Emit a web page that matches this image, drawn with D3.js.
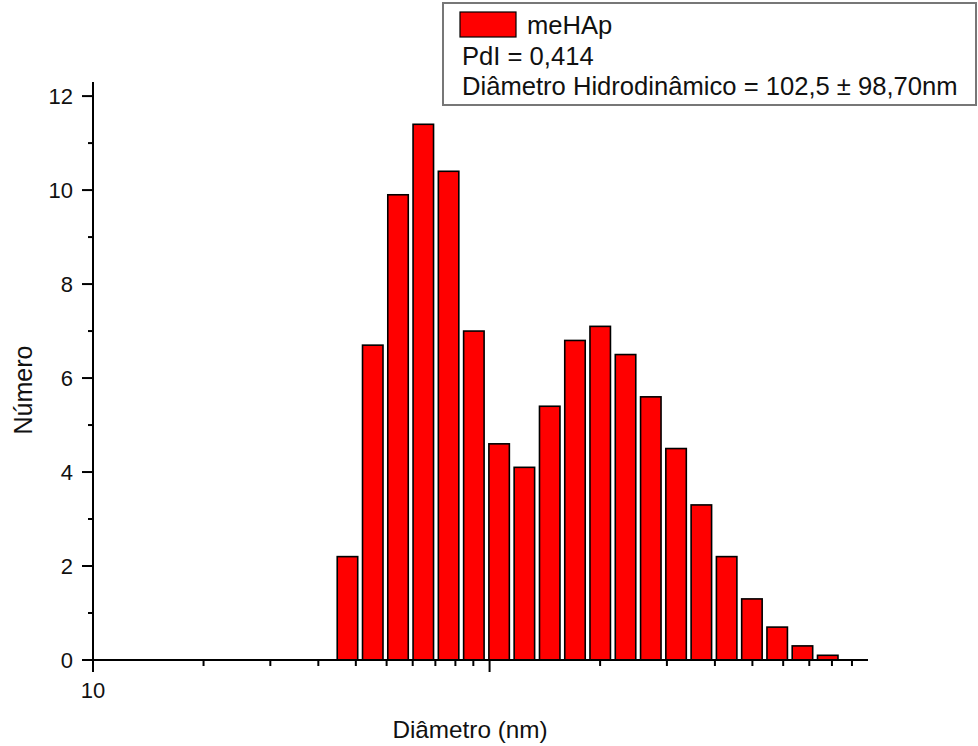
<!DOCTYPE html>
<html>
<head>
<meta charset="utf-8">
<script src="https://cdn.jsdelivr.net/npm/d3@7"></script>
<style>
  html, body { margin: 0; padding: 0; background: #fff; }
  svg { display: block; font-family: Arial, "Liberation Sans", sans-serif; }
</style>
</head>
<body>
<svg id="chart" width="978" height="746"></svg>
<script>
// Size classes (nm) of the DLS number distribution and their counts
const sizes = [43.82, 50.75, 58.77, 68.06, 78.82, 91.28, 105.7, 122.4, 141.8, 164.2,
               190.1, 220.2, 255.0, 295.3, 342.0, 396.1, 458.7, 531.2, 615.1, 712.4];
const counts = [2.2, 6.7, 9.9, 11.4, 10.4, 7.0, 4.6, 4.1, 5.4, 6.8,
                7.1, 6.5, 5.6, 4.5, 3.3, 2.2, 1.3, 0.7, 0.3, 0.1];

const xMajorTicks = [10, 100];
const xTickLabels = ["10", ""];
const yMajorTicks = [0, 2, 4, 6, 8, 10, 12];
const yMinorTicks = [1, 3, 5, 7, 9, 11];

const seriesName = "meHAp";
const legendLines = ["PdI = 0,414", "Diâmetro Hidrodinâmico = 102,5 ± 98,70nm"];
const xTitle = "Diâmetro (nm)";
const yTitle = "Número";

const svg = d3.select("#chart");
const plotL = 93, plotR = 868, plotT = 82, plotB = 660;

const x = d3.scaleLog().domain([10, 900]).range([plotL, plotR]);
const y = d3.scaleLinear().domain([0, 12.3]).range([plotB, plotT]);

// minor ticks: nine evenly spaced values inside each decade
const xMinorTicks = [];
xMajorTicks.forEach(d => {
  for (let k = 1; k <= 9; k++) {
    const v = d * (1 + 0.9 * k);
    if (v <= 900 && v !== d * 10) xMinorTicks.push(v);
  }
});

// bars: each class spans a fixed fraction of the log bin width
const binDec = Math.log10(sizes[1] / sizes[0]);
const half = Math.pow(10, binDec * 0.81 / 2);
const data = sizes.map((s, i) => ({ s, c: counts[i] }));

svg.append("g").selectAll("rect").data(data).join("rect")
  .attr("x", d => x(d.s / half))
  .attr("width", d => x(d.s * half) - x(d.s / half))
  .attr("y", d => y(d.c))
  .attr("height", d => y(0) - y(d.c))
  .attr("fill", "#ff0000")
  .attr("stroke", "#000")
  .attr("stroke-width", 1.6);

// x axis
const gx = svg.append("g").attr("stroke", "#000").attr("stroke-width", 2);
gx.append("line").attr("x1", plotL).attr("x2", plotR).attr("y1", plotB).attr("y2", plotB);
gx.selectAll(".xmaj").data(xMajorTicks).join("line")
  .attr("class", "xmaj")
  .attr("x1", d => x(d)).attr("x2", d => x(d)).attr("y1", plotB).attr("y2", plotB + 12);
gx.selectAll(".xmin").data(xMinorTicks).join("line")
  .attr("class", "xmin")
  .attr("x1", d => x(d)).attr("x2", d => x(d)).attr("y1", plotB).attr("y2", plotB + 6);
svg.append("g").selectAll("text").data(xMajorTicks).join("text")
  .attr("x", d => x(d)).attr("y", plotB + 38)
  .attr("text-anchor", "middle").attr("font-size", 22).attr("fill", "#111")
  .text((d, i) => xTickLabels[i]);

// y axis
const gy = svg.append("g").attr("stroke", "#000").attr("stroke-width", 2);
gy.append("line").attr("x1", plotL).attr("x2", plotL).attr("y1", plotT).attr("y2", plotB);
gy.selectAll(".ymaj").data(yMajorTicks).join("line")
  .attr("class", "ymaj")
  .attr("x1", plotL - 11).attr("x2", plotL).attr("y1", d => y(d)).attr("y2", d => y(d));
gy.selectAll(".ymin").data(yMinorTicks).join("line")
  .attr("class", "ymin")
  .attr("x1", plotL - 5).attr("x2", plotL).attr("y1", d => y(d)).attr("y2", d => y(d));
svg.append("g").selectAll("text").data(yMajorTicks).join("text")
  .attr("x", plotL - 20).attr("y", d => y(d) + 8)
  .attr("text-anchor", "end").attr("font-size", 22).attr("fill", "#111")
  .text(d => d);

// axis titles
svg.append("text").attr("x", 470).attr("y", 738)
  .attr("text-anchor", "middle").attr("font-size", 24.3).attr("fill", "#111")
  .text(xTitle);
svg.append("text").attr("transform", "translate(32,390) rotate(-90)")
  .attr("text-anchor", "middle").attr("font-size", 25).attr("fill", "#111")
  .text(yTitle);

// legend box
const lg = svg.append("g");
lg.append("rect").attr("x", 443).attr("y", 3).attr("width", 533).attr("height", 102)
  .attr("fill", "#fff").attr("stroke", "#777").attr("stroke-width", 2);
lg.append("rect").attr("x", 460).attr("y", 12).attr("width", 56).attr("height", 25)
  .attr("fill", "#ff0000").attr("stroke", "#000").attr("stroke-width", 1.2);
lg.append("text").attr("x", 527).attr("y", 34).attr("font-size", 25.6).attr("fill", "#111")
  .text(seriesName);
lg.selectAll(".ll").data(legendLines).join("text")
  .attr("class", "ll")
  .attr("x", 462).attr("y", (d, i) => 65 + i * 30)
  .attr("font-size", 25.6).attr("fill", "#111")
  .text(d => d);
</script>
</body>
</html>
